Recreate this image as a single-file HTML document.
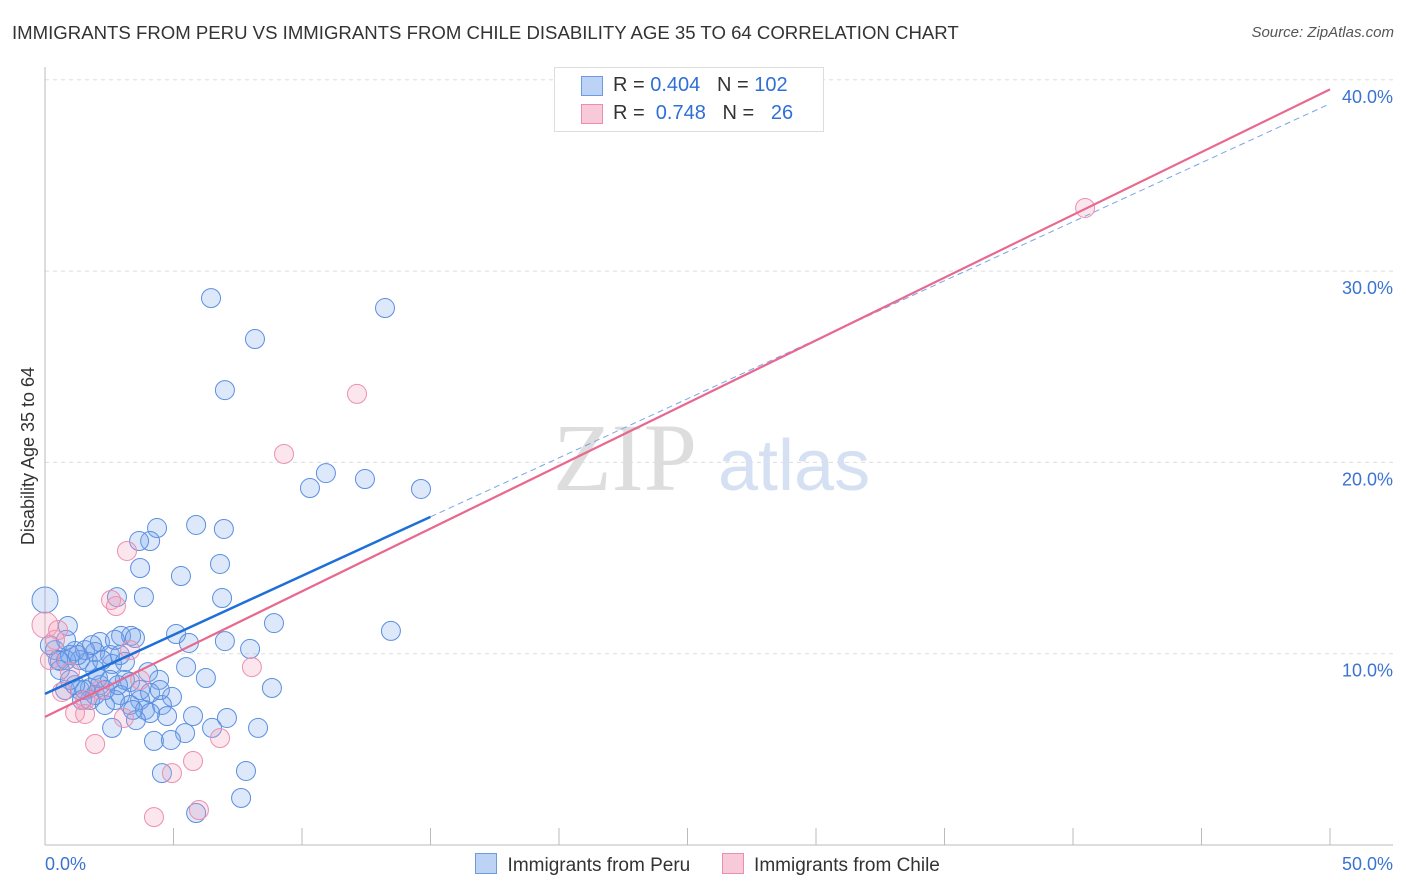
<!DOCTYPE html>
<html><head><meta charset="utf-8"><style>
body{margin:0;background:#fff;font-family:"Liberation Sans",sans-serif}
#wrap{position:relative;width:1406px;height:892px;overflow:hidden}
.t{position:absolute;white-space:nowrap}
</style></head><body>
<div id="wrap">
<div class="t" style="left:12px;top:22px;font-size:18.6px;color:#333">IMMIGRANTS FROM PERU VS IMMIGRANTS FROM CHILE DISABILITY AGE 35 TO 64 CORRELATION CHART</div>
<div class="t" style="right:12px;top:24px;font-size:15px;color:#555;font-style:italic">Source: ZipAtlas.com</div>
<svg id="svg" width="1406" height="892" style="position:absolute;left:0;top:0"></svg>
</div>
<script>
const peruX=[6.46,13.23,8.17,7.00,10.93,10.31,12.45,14.63,5.88,4.36,6.96,4.09,3.66,3.70,5.29,6.81,3.85,2.80,6.89,0,8.91,13.46,5.10,2.96,3.35,3.50,5.60,7.00,2.14,0.89,7.98,0.39,1.17,1.95,2.53,1.36,0.58,5.49,4.01,6.26,4.44,8.83,0.78,1.75,3.31,2.61,1.95,3.11,2.14,1.36,2.92,3.70,4.94,4.55,3.31,3.89,2.72,2.33,1.75,1.17,5.76,4.75,7.08,4.09,3.54,2.61,8.29,6.50,5.45,4.24,4.90,4.55,7.82,7.63,5.88,1.56,2.06,0.97,0.19,0.51,0.82,1.67,2.22,1.56,3.11,3.70,4.09,2.84,1.95,2.33,2.53,1.44,0.97,0.58,3.42,4.47,1.83,2.92,0.82,1.28,2.72];
const peruY=[28.59,28.07,26.45,23.78,19.44,18.66,19.13,18.61,16.73,16.57,16.52,15.89,15.89,14.48,14.06,14.69,12.96,12.96,12.91,12.81,11.60,11.19,11.03,10.93,10.93,10.82,10.56,10.66,10.61,11.45,10.25,10.19,10.14,10.09,9.93,9.67,9.62,9.30,9.04,8.73,8.63,8.21,8.10,8.21,8.52,9.46,9.15,8.63,8.36,8.10,7.84,7.58,7.74,7.32,7.32,7.06,7.58,7.32,7.58,8.36,6.74,6.74,6.64,6.90,6.53,6.12,6.12,6.12,5.85,5.44,5.49,3.76,3.87,2.46,1.67,8.10,8.73,9.93,10.45,9.67,9.67,9.57,9.67,10.19,9.57,8.10,7.95,8.36,7.84,8.10,8.63,7.58,8.63,9.15,7.06,8.10,10.45,9.93,10.72,9.93,10.72];
const chileX=[40.47,12.14,9.30,3.19,2.57,2.76,8.05,0,0.39,0.19,0.97,0.66,1.56,1.17,1.56,3.07,6.81,1.95,5.76,4.94,5.99,4.24,3.70,2.14,3.31,0.51];
const chileY=[33.30,23.58,20.44,15.37,12.81,12.49,9.30,11.50,10.72,9.67,9.04,8.00,7.58,6.90,6.85,6.64,5.59,5.28,4.39,3.76,1.83,1.46,8.63,8.10,10.19,11.24];
const yTicks=[10,20,30,40];
const yTickLabels=["10.0%","20.0%","30.0%","40.0%"];
const xTicks=[0,5,10,15,20,25,30,35,40,45,50];
const peruIntercept=7.9, peruSlope=0.617, peruSolidEnd=15;
const chileIntercept=6.7, chileSlope=0.656;

const NS="http://www.w3.org/2000/svg";
const svg=document.getElementById('svg');
const sx=v=>45+v*25.7;
const sy=v=>845-v*19.13;
function mk(tag,attrs,name){const e=document.createElementNS(NS,tag);for(const k in attrs)e.setAttribute(k,attrs[k]);


svg.appendChild(e);return e;}
yTicks.forEach((v,i)=>{
 mk('line',{x1:45,x2:1393,y1:sy(v),y2:sy(v),stroke:'#ddd','stroke-dasharray':'4,4'},'gridline');
 const t=mk('text',{x:1393,y:sy(v)+23,'text-anchor':'end','font-size':18,fill:'#3b73d1'},'y-tick-label');t.textContent=yTickLabels[i];
});
mk('line',{x1:45,x2:45,y1:67,y2:845,stroke:'#bbb'},'y-axis');
mk('line',{x1:45,x2:1393,y1:845,y2:845,stroke:'#bbb'},'x-axis');
xTicks.forEach(v=>mk('line',{x1:sx(v),x2:sx(v),y1:828,y2:845,stroke:'#bbb'},'x-tick'));
let t=mk('text',{x:45,y:870,'font-size':18,fill:'#3b73d1'},'x-min-label');t.textContent='0.0%';
t=mk('text',{x:1393,y:870,'text-anchor':'end','font-size':18,fill:'#3b73d1'},'x-max-label');t.textContent='50.0%';
t=mk('text',{x:34,y:456,'text-anchor':'middle','font-size':18,fill:'#333',transform:'rotate(-90 34 456)'},'y-axis-title');t.textContent='Disability Age 35 to 64';
t=mk('text',{x:553,y:490,'font-size':96,fill:'#ddd','font-family':'Liberation Serif, serif'},'watermark-zip');t.textContent='ZIP';
t=mk('text',{x:718,y:490,'font-size':72,fill:'#d5e1f3'},'watermark-atlas');t.textContent='atlas';
peruX.forEach((x,i)=>mk('circle',{cx:sx(x),cy:sy(peruY[i]),r:(x===0?13:9.5),fill:'rgba(120,165,235,0.25)',stroke:'#5b8fe0','stroke-width':1},'peru-point'));
chileX.forEach((x,i)=>mk('circle',{cx:sx(x),cy:sy(chileY[i]),r:(x===0?13:9.5),fill:'rgba(245,155,185,0.25)',stroke:'#ec8fae','stroke-width':1},'chile-point'));
mk('line',{x1:sx(peruSolidEnd),y1:sy(peruIntercept+peruSlope*peruSolidEnd),x2:sx(50),y2:sy(peruIntercept+peruSlope*50),stroke:'#7aa4e8','stroke-width':1,'stroke-dasharray':'6,4'},'peru-trend-extension');
mk('line',{x1:sx(0),y1:sy(peruIntercept),x2:sx(peruSolidEnd),y2:sy(peruIntercept+peruSlope*peruSolidEnd),stroke:'#1f6fd8','stroke-width':2.5},'peru-trend-line');
mk('line',{x1:sx(0),y1:sy(chileIntercept),x2:sx(50),y2:sy(chileIntercept+chileSlope*50),stroke:'#e8688f','stroke-width':2.2},'chile-trend-line');
</script>
<div class="t" style="left:554px;top:67px;width:268px;height:63px;border:1px solid #ddd;background:#fff;font-size:20px">
 <div style="position:absolute;left:26px;top:8px;width:20px;height:18px;background:#bcd3f5;border:1px solid #6c9be0"></div>
 <div class="t" style="left:58px;top:6px;color:#333">R = <span style="color:#2f6fd6">0.404</span>&nbsp;&nbsp;&nbsp;N = <span style="color:#2f6fd6">102</span></div>
 <div style="position:absolute;left:26px;top:36px;width:20px;height:18px;background:#f8c9d8;border:1px solid #ec8fae"></div>
 <div class="t" style="left:58px;top:34px;color:#333">R = &nbsp;<span style="color:#2f6fd6">0.748</span>&nbsp;&nbsp;&nbsp;N = &nbsp;&nbsp;<span style="color:#2f6fd6">26</span></div>
</div>
<div class="t" style="left:475px;top:853px;font-size:19px;color:#333">
 <span style="display:inline-block;width:20px;height:19px;background:#bcd3f5;border:1px solid #6c9be0;vertical-align:-3px"></span>&nbsp; Immigrants from Peru
 <span style="display:inline-block;width:20px;height:19px;background:#f8c9d8;border:1px solid #ec8fae;vertical-align:-3px;margin-left:26px"></span>&nbsp; Immigrants from Chile
</div>
</body></html>
